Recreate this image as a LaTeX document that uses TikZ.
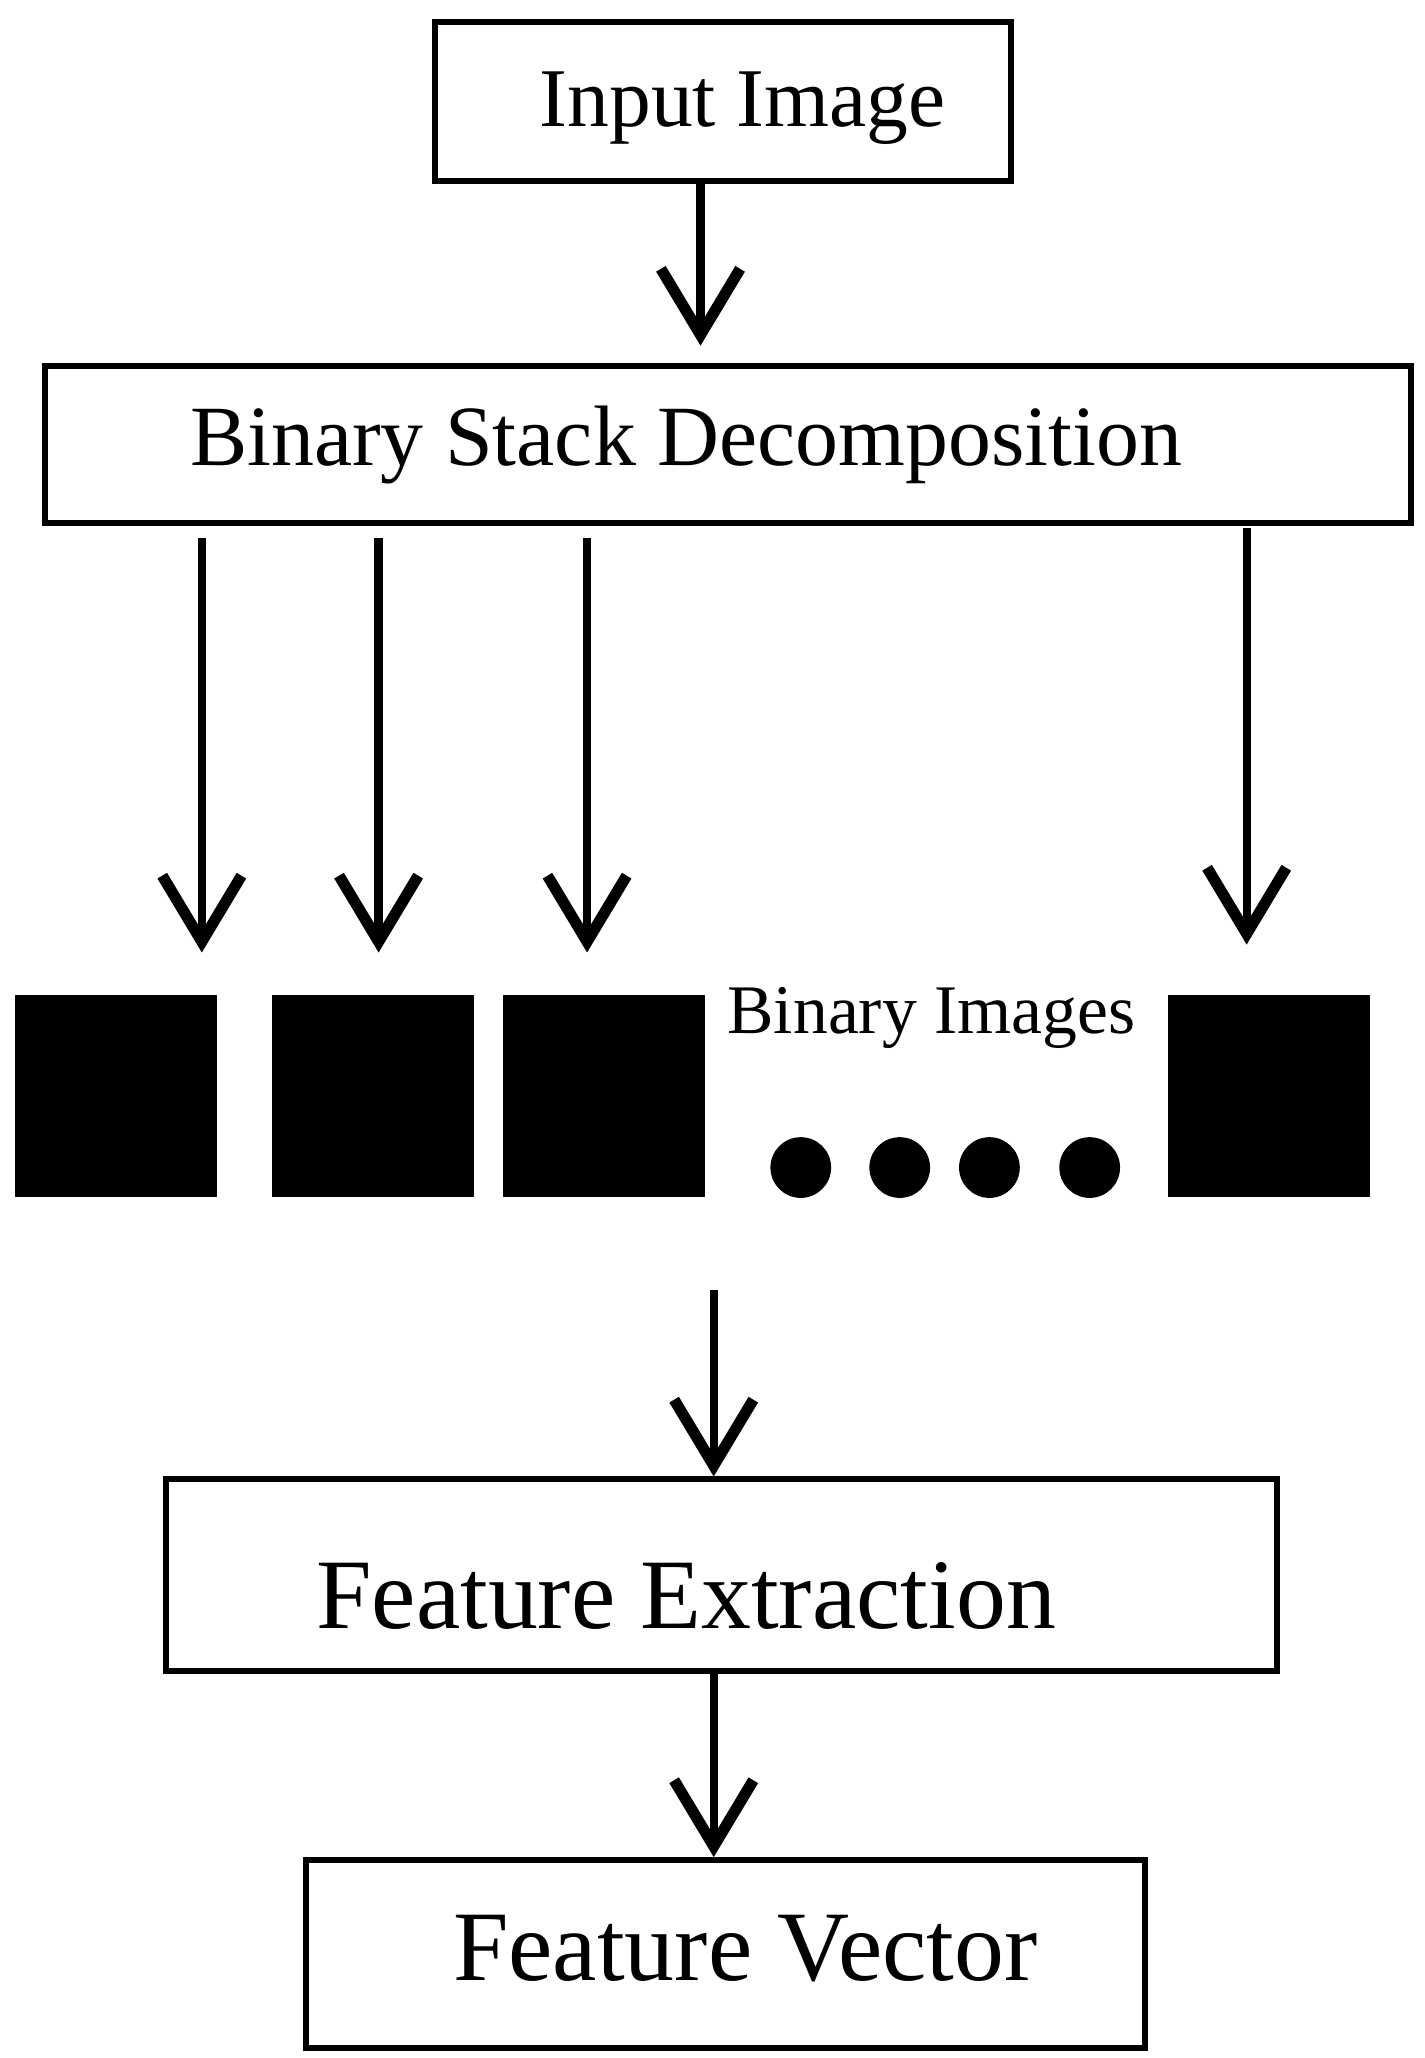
\documentclass[tikz,border=0pt]{standalone}
\usepackage{fontspec}
\setmainfont{Liberation Serif}
\usetikzlibrary{arrows.meta}
\begin{document}
\begin{tikzpicture}[x=0.01cm,y=-0.01cm,
  arr/.style={line width=1.8pt,-{Straight Barb[length=0.5cm,width=0.6cm,line width=2.4pt]}},
  sq/.style={fill=black,minimum size=1.53cm,inner sep=0pt},
  dot/.style={circle,fill=black,minimum size=0.46cm,inner sep=0pt}]
\useasboundingbox (0,0) rectangle (1080,1560);
\node[draw,line width=1.3pt,minimum width=4.36cm,minimum height=1.21cm] (in) at (548,77) {};
\node[font=\fontsize{18}{20}\selectfont] (int) at (563,82) {Input Image};
\node[draw,line width=1.3pt,minimum width=10.35cm,minimum height=1.19cm] (bsd) at (552,337) {};
\node[font=\fontsize{18.5}{20}\selectfont] (bsdt) at (520,337) {Binary Stack Decomposition};
\node[sq] (s1) at (88,831) {};
\node[sq] (s2) at (283,831) {};
\node[sq] (s3) at (458,831) {};
\node[sq] (s4) at (962,831) {};
\node[font=\fontsize{15}{17}\selectfont] (bi) at (706,772) {Binary Images};
\node[dot] (d1) at (607,885) {};
\node[dot] (d2) at (682,885) {};
\node[dot] (d3) at (750,885) {};
\node[dot] (d4) at (826,885) {};
\node[draw,line width=1.3pt,minimum width=8.42cm,minimum height=1.45cm] (fe) at (547,1194) {};
\node[font=\fontsize{21.5}{24}\selectfont] (fet) at (520,1210) {Feature Extraction};
\node[draw,line width=1.3pt,minimum width=6.35cm,minimum height=1.42cm] (fv) at (550,1481) {};
\node[font=\fontsize{21.5}{24}\selectfont] (fvt) at (565,1477) {Feature Vector};
\coordinate (a1) at (153,408); \coordinate (b1) at (153,722);
\coordinate (a2) at (287,408); \coordinate (b2) at (287,722);
\coordinate (a3) at (445,408); \coordinate (b3) at (445,722);
\coordinate (a4) at (945,400); \coordinate (b4) at (945,716);
\coordinate (c1) at (541,978);
\draw[arr] (531,138) -- (531,262);
\draw[arr] (a1) -- (b1);
\draw[arr] (a2) -- (b2);
\draw[arr] (a3) -- (b3);
\draw[arr] (a4) -- (b4);
\draw[arr] (c1) -- (fe.north -| c1);
\draw[arr] (fe.south -| c1) -- (fv.north -| c1);
\end{tikzpicture}
\end{document}
